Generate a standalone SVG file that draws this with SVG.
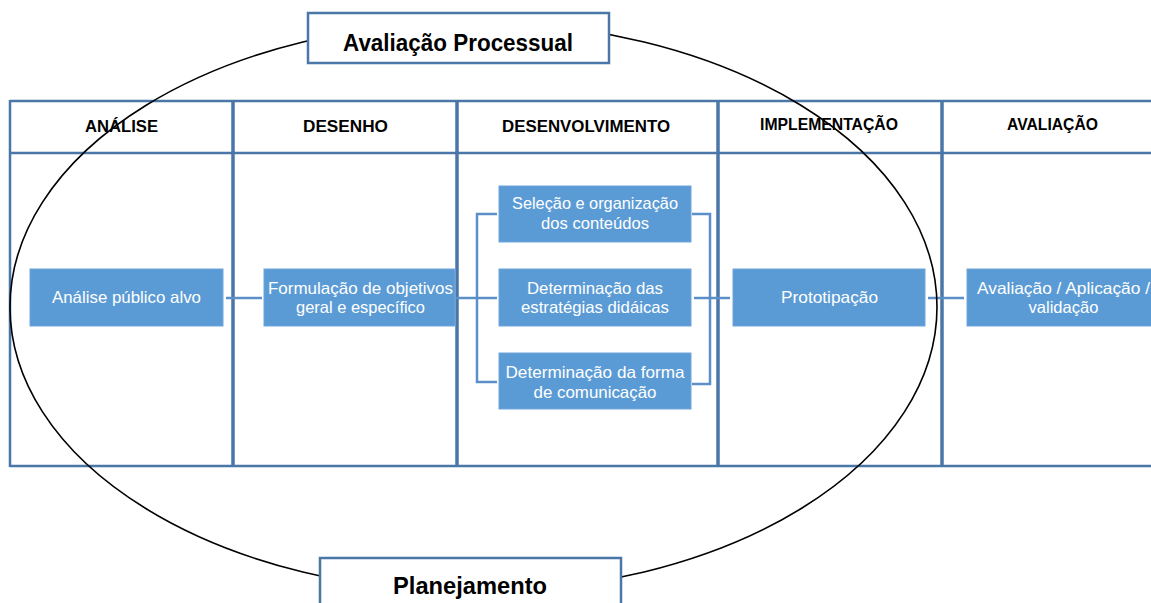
<svg xmlns="http://www.w3.org/2000/svg" width="1151" height="603" viewBox="0 0 1151 603">
<style>
.grid{stroke:#4a76a8;fill:none}
.box{fill:#5b9bd5;stroke:#6fa6da;stroke-width:1}
.bt{font-family:"Liberation Sans",Arial,sans-serif;font-size:16.5px;fill:#ffffff;text-anchor:middle}
.ht{font-family:"Liberation Sans",Arial,sans-serif;font-size:16.5px;font-weight:bold;fill:#000;text-anchor:middle}
.tt{font-family:"Liberation Sans",Arial,sans-serif;font-size:23px;font-weight:bold;fill:#000;text-anchor:middle}
.conn{stroke:#5b8fc7;stroke-width:2.5;fill:none}
.tbox{fill:#fff;stroke:#4a76a8;stroke-width:2.5}
</style>
<rect width="1151" height="603" fill="#fff"/>
<g id="table">
<line class="grid" x1="10" y1="101" x2="1151" y2="101" stroke-width="2.5"/>
<line class="grid" x1="10" y1="153" x2="1151" y2="153" stroke-width="2.5"/>
<line class="grid" x1="10" y1="466" x2="1151" y2="466" stroke-width="2.5"/>
<line class="grid" x1="10" y1="100" x2="10" y2="467" stroke-width="2.5"/>
<line class="grid" x1="233" y1="100" x2="233" y2="467" stroke-width="3.5"/>
<line class="grid" x1="457" y1="100" x2="457" y2="467" stroke-width="3.5"/>
<line class="grid" x1="718" y1="100" x2="718" y2="467" stroke-width="3.5"/>
<line class="grid" x1="942" y1="100" x2="942" y2="467" stroke-width="3.5"/>
<text class="ht" x="121.5" y="132" textLength="73" lengthAdjust="spacingAndGlyphs">ANÁLISE</text>
<text class="ht" x="345.5" y="132" textLength="85" lengthAdjust="spacingAndGlyphs">DESENHO</text>
<text class="ht" x="586" y="132" textLength="168" lengthAdjust="spacingAndGlyphs">DESENVOLVIMENTO</text>
<text class="ht" x="829" y="130" textLength="138" lengthAdjust="spacingAndGlyphs">IMPLEMENTAÇÃO</text>
<text class="ht" x="1052.5" y="130" textLength="91" lengthAdjust="spacingAndGlyphs">AVALIAÇÃO</text>
</g>
<g id="connectors">
<line class="conn" x1="226" y1="298" x2="262" y2="298"/>
<line class="conn" x1="456" y1="298" x2="497" y2="298"/>
<polyline class="conn" points="497,214 477,214 477,382 497,382"/>
<polyline class="conn" points="692,214 710,214 710,384 692,384"/>
<line class="conn" x1="694" y1="298" x2="730" y2="298"/>
<line class="conn" x1="928" y1="298" x2="964" y2="298"/>
</g>
<g id="n-analise">
<rect class="box" x="30" y="269" width="193" height="57"/>
<text class="bt" x="126.5" y="303" textLength="149" lengthAdjust="spacingAndGlyphs">Análise público alvo</text>
</g>
<g id="n-formulacao">
<rect class="box" x="264" y="269" width="191" height="57"/>
<text class="bt" x="360.5" y="293.5" textLength="185" lengthAdjust="spacingAndGlyphs">Formulação de objetivos</text>
<text class="bt" x="360.5" y="313" textLength="129" lengthAdjust="spacingAndGlyphs">geral e específico</text>
</g>
<g id="n-selecao">
<rect class="box" x="499" y="186" width="192" height="56"/>
<text class="bt" x="595" y="209" textLength="166" lengthAdjust="spacingAndGlyphs">Seleção e organização</text>
<text class="bt" x="595" y="228.5" textLength="108" lengthAdjust="spacingAndGlyphs">dos conteúdos</text>
</g>
<g id="n-estrategias">
<rect class="box" x="499" y="269" width="192" height="57"/>
<text class="bt" x="595" y="293.5" textLength="136" lengthAdjust="spacingAndGlyphs">Determinação das</text>
<text class="bt" x="595" y="313" textLength="148" lengthAdjust="spacingAndGlyphs">estratégias didáicas</text>
</g>
<g id="n-comunicacao">
<rect class="box" x="499" y="353" width="192" height="56"/>
<text class="bt" x="595" y="377.5" textLength="179" lengthAdjust="spacingAndGlyphs">Determinação da forma</text>
<text class="bt" x="595" y="397.5" textLength="123" lengthAdjust="spacingAndGlyphs">de comunicação</text>
</g>
<g id="n-prototipacao">
<rect class="box" x="733" y="269" width="192" height="57"/>
<text class="bt" x="829.5" y="303" textLength="97" lengthAdjust="spacingAndGlyphs">Prototipação</text>
</g>
<g id="n-avaliacao">
<rect class="box" x="967" y="269" width="192" height="57"/>
<text class="bt" x="1063.5" y="293.5" textLength="173" lengthAdjust="spacingAndGlyphs">Avaliação / Aplicação /</text>
<text class="bt" x="1063.5" y="313" textLength="70" lengthAdjust="spacingAndGlyphs">validação</text>
</g>
<g id="ellipse">
<ellipse cx="473.5" cy="307" rx="463.5" ry="285" fill="none" stroke="#000" stroke-width="1.6"/>
</g>
<g id="n-processual">
<rect class="tbox" x="308" y="13" width="301" height="50"/>
<text class="tt" x="458" y="50.5" textLength="230" lengthAdjust="spacingAndGlyphs">Avaliação Processual</text>
</g>
<g id="n-planejamento">
<rect class="tbox" x="320" y="558" width="301" height="60"/>
<text class="tt" x="470" y="594" textLength="154" lengthAdjust="spacingAndGlyphs">Planejamento</text>
</g>
</svg>
